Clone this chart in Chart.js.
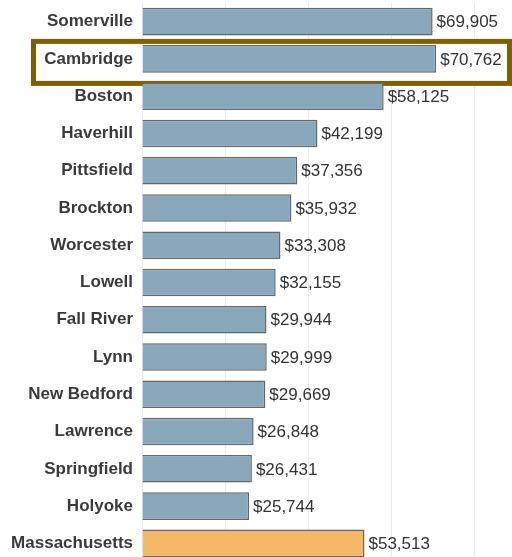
<!DOCTYPE html>
<html>
<head>
<meta charset="utf-8">
<script src="https://cdn.jsdelivr.net/npm/chart.js@4"></script>
<style>
  html, body { margin: 0; padding: 0; background: #fff; overflow: hidden; }
  #wrap { position: relative; width: 512px; height: 562px; }
</style>
</head>
<body>
<div id="wrap"><canvas id="grafico"></canvas></div>
<script>
// categorias (eixo y)
const cidades = ['Somerville', 'Cambridge', 'Boston', 'Haverhill', 'Pittsfield', 'Brockton',
  'Worcester', 'Lowell', 'Fall River', 'Lynn', 'New Bedford', 'Lawrence', 'Springfield',
  'Holyoke', 'Massachusetts'];
// valores (eixo x)
const valores = [69905, 70762, 58125, 42199, 37356, 35932, 33308, 32155, 29944, 29999,
  29669, 26848, 26431, 25744, 53513];
// linhas de grade verticais
const gradeX = [0, 20000, 40000, 60000, 80000];
const destaque = 'Cambridge';
const estado = 'Massachusetts';

const corBarra = '#8aa8bc';
const corEstado = '#f4b868';

// caixa marrom em volta de Cambridge
const caixaDestaque = {
  id: 'caixaDestaque',
  beforeDatasetsDraw(chart) {
    const ctx = chart.ctx;
    const y = chart.scales.y.getPixelForValue(cidades.indexOf(destaque));
    const top = y - 17.5, bottom = y + 24.5, left = 33.5, right = 509.5;
    ctx.save();
    ctx.fillStyle = '#fff';
    ctx.fillRect(chart.chartArea.left, top, right - chart.chartArea.left, bottom - top);
    ctx.strokeStyle = '#7f6000';
    ctx.lineWidth = 5;
    ctx.strokeRect(left, top, right - left, bottom - top);
    ctx.restore();
  }
};

// rotulos de valor
const rotulos = {
  id: 'rotulos',
  afterDatasetsDraw(chart) {
    const ctx = chart.ctx;
    ctx.save();
    ctx.font = '17px "Liberation Sans", Arial, sans-serif';
    ctx.fillStyle = '#333';
    ctx.textAlign = 'left';
    ctx.textBaseline = 'middle';
    chart.getDatasetMeta(0).data.forEach((bar, i) => {
      ctx.fillText('$' + valores[i].toLocaleString('en-US'), bar.x + 4, bar.y + 1);
    });
    ctx.restore();
  }
};

new Chart(document.getElementById('grafico').getContext('2d'), {
  type: 'bar',
  data: {
    labels: cidades,
    datasets: [{
      data: valores,
      backgroundColor: cidades.map(c => c === estado ? corEstado : corBarra),
      borderColor: '#666',
      borderWidth: 1.5,
      categoryPercentage: 1,
      barPercentage: 0.74
    }]
  },
  options: {
    indexAxis: 'y',
    responsive: true,
    maintainAspectRatio: false,
    animation: false,
    layout: { padding: { top: 3, right: 0, bottom: 0, left: 0 } },
    plugins: { legend: { display: false }, tooltip: { enabled: false } },
    scales: {
      x: {
        min: 0,
        max: 89000,
        afterBuildTicks(scale) { scale.ticks = gradeX.map(v => ({ value: v })); },
        afterFit(scale) { scale.height = 0; scale.paddingLeft = 0; scale.paddingRight = 0; },
        ticks: { display: false },
        grid: { color: '#ebebeb', drawTicks: false, tickLength: 0, lineWidth: 1 },
        border: { display: false }
      },
      y: {
        afterFit(scale) { scale.width = 142; scale.paddingTop = 0; scale.paddingBottom = 0; },
        grid: { display: false, drawTicks: false, tickLength: 0 },
        border: { display: false },
        ticks: {
          color: '#3a3a3a',
          padding: 9,
          font: { family: '"Liberation Sans", Arial, sans-serif', size: 17, weight: 'bold' }
        }
      }
    }
  },
  plugins: [caixaDestaque, rotulos]
});
</script>
</body>
</html>
